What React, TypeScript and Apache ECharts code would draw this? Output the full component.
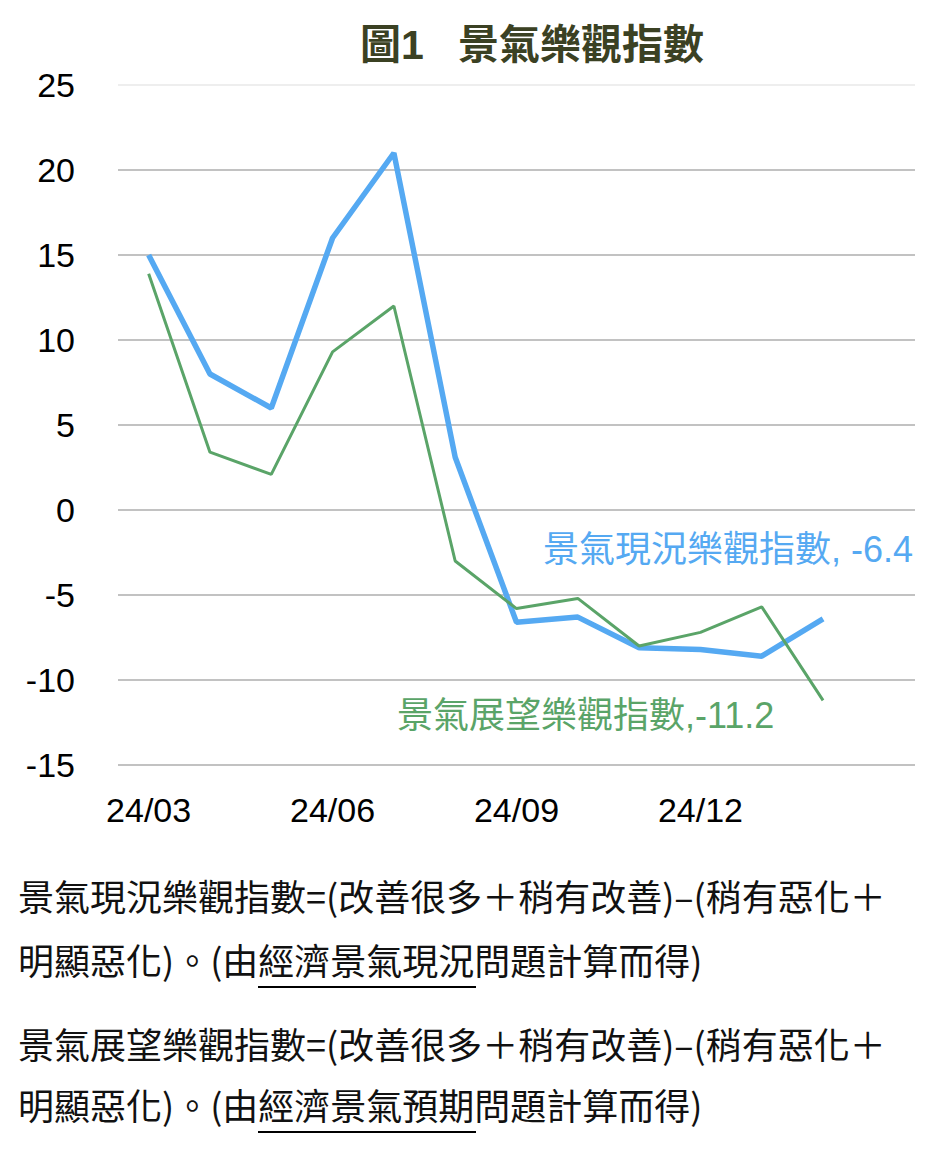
import React, { useEffect, useRef } from "react";
import * as echarts from "echarts";

const months = ["24/03", "24/04", "24/05", "24/06", "24/07", "24/08", "24/09", "24/10", "24/11", "24/12", "25/01", "25/02", "25/03"];
const currentIdx = [15.0, 8.0, 6.0, 16.0, 21.0, 3.1, -6.6, -6.3, -8.1, -8.2, -8.6, -6.4];
const outlookIdx = [13.9, 3.4, 2.1, 9.3, 12.0, -3.0, -5.8, -5.2, -8.0, -7.2, -5.7, -11.2];
const yTicks = { min: -15, max: 25, interval: 5 };
const titleText = "圖1   景氣樂觀指數";
const currentLabel = "景氣現況樂觀指數, -6.4";
const outlookLabel = "景氣展望樂觀指數,-11.2";
const noteLines = [
  "景氣現況樂觀指數=(改善很多＋稍有改善)–(稍有惡化＋",
  "明顯惡化)。(由經濟景氣現況問題計算而得)",
  "景氣展望樂觀指數=(改善很多＋稍有改善)–(稍有惡化＋",
  "明顯惡化)。(由經濟景氣預期問題計算而得)",
];

const BLUE = "#55a9f2";
const GREEN = "#5aa468";
const CJK = "'Noto Sans CJK TC', 'Liberation Sans', sans-serif";
const MIX = "'Liberation Sans', 'Noto Sans CJK TC', sans-serif";
const LAT = "'Liberation Sans', Arial, sans-serif";

export default function App() {
  const ref = useRef<HTMLDivElement>(null);
  useEffect(() => {
    if (!ref.current) return;
    const chart = echarts.init(ref.current, undefined, { renderer: "svg" });
    const noteY = [897, 961, 1045, 1106];
    const noteStyle = (t: string, y: number) => ({
      type: "text",
      left: 18,
      top: y - 20,
      style: { text: t, font: `36px ${CJK}`, fill: "#111" },
    });
    chart.setOption({
      animation: false,
      backgroundColor: "#fff",
      title: {
        text: titleText,
        left: 527,
        textAlign: "center",
        top: 19,
        textStyle: { fontFamily: MIX, fontSize: 41, fontWeight: "bold", color: "#3b4123" },
      },
      grid: { left: 118, right: 19, top: 85, height: 680 },
      xAxis: {
        type: "category",
        data: months,
        boundaryGap: true,
        axisLine: { show: false },
        axisTick: { show: false },
        axisLabel: {
          interval: (i: number) => i % 3 === 0 && i < 12,
          margin: 28,
          fontFamily: LAT,
          fontSize: 34,
          color: "#000",
        },
      },
      yAxis: {
        type: "value",
        min: yTicks.min,
        max: yTicks.max,
        interval: yTicks.interval,
        axisLine: { show: false },
        axisTick: { show: false },
        axisLabel: { margin: 43, fontFamily: LAT, fontSize: 34, color: "#000" },
        splitLine: {
          lineStyle: {
            width: 2,
            color: ["#c2c2c2", "#c2c2c2", "#c2c2c2", "#c2c2c2", "#c2c2c2", "#c2c2c2", "#c2c2c2", "#c2c2c2", "#eeeeee"],
          },
        },
      },
      series: [
        {
          type: "line",
          data: currentIdx,
          symbol: "none",
          lineStyle: { color: BLUE, width: 5.5 },
          z: 3,
        },
        {
          type: "line",
          data: outlookIdx,
          symbol: "none",
          lineStyle: { color: GREEN, width: 3 },
          z: 4,
        },
      ],
      graphic: [
        {
          type: "text",
          right: 21,
          top: 531,
          style: { text: currentLabel, font: `36px ${MIX}`, fill: BLUE },
        },
        {
          type: "text",
          left: 397,
          top: 697,
          style: { text: outlookLabel, font: `36px ${MIX}`, fill: GREEN },
        },
        ...noteLines.map((t, i) => noteStyle(t, noteY[i])),
        { type: "rect", shape: { x: 258, y: 986, width: 218, height: 2 }, style: { fill: "#000" } },
        { type: "rect", shape: { x: 258, y: 1131, width: 218, height: 2 }, style: { fill: "#000" } },
      ],
    });
    return () => chart.dispose();
  }, []);
  return <div ref={ref} style={{ position: "absolute", left: 0, top: 0, width: 934, height: 1150 }} />;
}
